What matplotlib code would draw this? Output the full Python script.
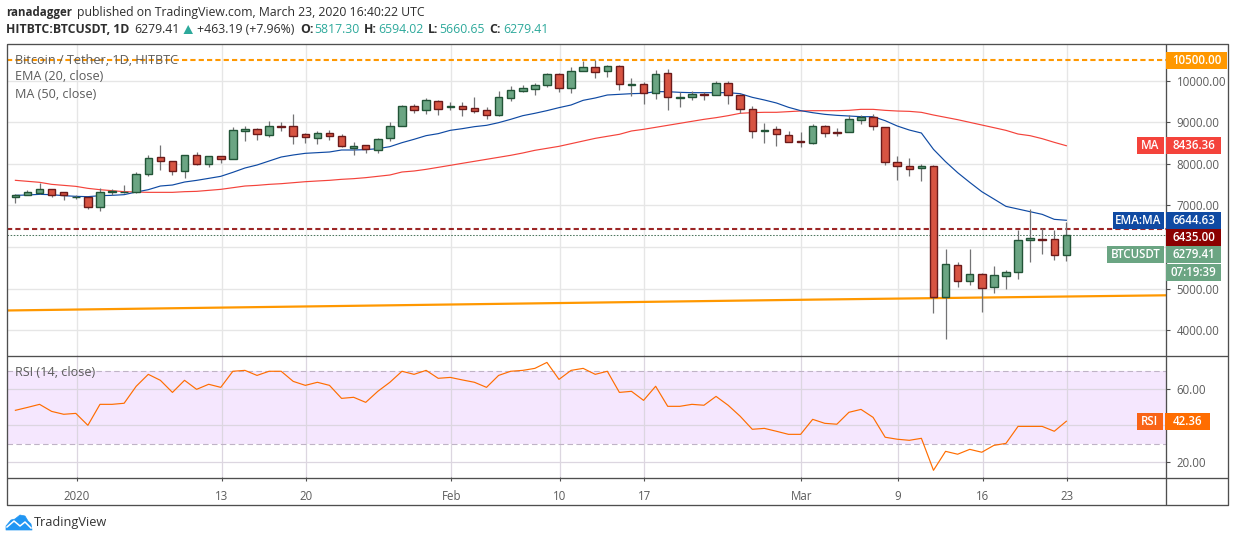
import matplotlib
matplotlib.use("Agg")
import matplotlib.pyplot as plt
from matplotlib.patches import Rectangle, Polygon

plt.rcParams['font.family'] = ['Open Sans', 'DejaVu Sans']

W, H = 1234, 541

# trading days, counted from 1 Jan 2020
first_day = -5
opens = [7196,7244,7308,7388,7316,7196,7196,6955,7332,7324,7332,7749,8157,8061,7821,8206,8005,8182,8110,8798,8831,8702,8903,8903,8710,8630,8734,8678,8390,8446,8326,8614,8903,
         9384,9304,9504,9360,9384,9336,9288,9183,9592,9760,9808,9889,10153,9833,10225,10321,10225,10345,9905,9913,9696,10177,9592,9600,9672,9648,9937,9648,9312,8783,8831,8687,8542,
         8510,8903,8758,8758,9047,9135,8879,8037,7941,7893,7941,4792,5561,5176,5345,5032,5297,5393,6162,6186,6186,5817.30]
highs = [7276,7364,7548,7388,7316,7252,7212,7412,7388,7492,7797,8214,8446,8061,8206,8278,8182,8182,8879,8911,8863,9031,9007,9199,8734,8782,8814,8710,8526,8446,8614,9007,9415,
         9440,9584,9536,9488,9488,9608,9368,9744,9865,9889,9937,10177,10177,10321,10474,10506,10385,10369,10065,9961,10257,10281,9720,9744,9736,9985,9985,9680,9392,8983,8911,8791,8774,
         8959,8935,8863,9175,9167,9191,8879,8189,8133,7997,7973,5954,5633,5954,5369,5537,5441,6411,6907,6450,6411,6594.02]
lows = [7068,7244,7268,7196,7140,7164,6923,6875,7244,7308,7308,7717,7853,7741,7669,7981,7925,8029,8110,8550,8582,8654,8798,8486,8510,8486,8582,8398,8222,8270,8270,8558,8903,
        9224,9200,9183,9296,9151,9216,9079,9151,9520,9736,9656,9857,9736,9712,10225,10073,10089,9776,9640,9440,9560,9296,9368,9536,9536,9648,9440,9216,8622,8510,8430,8518,8414,
        8486,8654,8678,8758,8959,8814,7981,7612,7709,7588,4415,3798,5048,5088,4447,4904,4992,5233,5641,5834,5689,5660.65]
closes = [7244,7316,7388,7244,7252,7204,6955,7332,7348,7332,7749,8133,8061,7821,8206,8005,8182,8110,8806,8839,8726,8903,8887,8678,8654,8734,8678,8422,8422,8350,8590,8903,9383,
          9304,9528,9328,9384,9328,9280,9183,9600,9768,9816,9889,10153,9833,10225,10321,10217,10345,9913,9913,9696,10153,9600,9600,9672,9648,9937,9648,9312,8783,8807,8711,8518,8534,
          8903,8734,8750,9071,9119,8903,8037,7941,7885,7941,4792,5585,5176,5345,5008,5321,5393,6162,6210,6178,5802,6279.41]
ema20 = [7244,7252,7268,7260,7236,7220,7212,7236,7244,7260,7324,7380,7468,7492,7564,7604,7652,7701,7797,7901,7973,8069,8165,8214,8254,8270,8286,8334,8334,8342,8366,8414,8510,
         8591,8679,8727,8807,8847,8895,8927,8991,9071,9159,9216,9280,9352,9416,9528,9584,9656,9672,9688,9696,9736,9736,9720,9712,9712,9712,9712,9688,9600,9536,9464,9360,9280,
         9231,9191,9167,9151,9135,9135,9039,8911,8814,8742,8350,8053,7789,7556,7332,7156,6979,6915,6851,6787,6667,6644.63]
ma50 = [7605,7581,7557,7508,7484,7460,7412,7380,7356,7332,7324,7316,7316,7316,7332,7340,7364,7388,7428,7468,7484,7508,7524,7548,7572,7589,7605,7629,7645,7669,7701,7733,7805,
        7829,7869,7917,7965,8014,8062,8110,8158,8206,8262,8326,8374,8422,8486,8550,8614,8663,8711,8791,8831,8879,8927,8975,9023,9071,9111,9159,9216,9232,9240,9240,9256,9272,
        9279,9279,9279,9287,9311,9311,9287,9271,9263,9239,9175,9119,9063,8999,8935,8871,8806,8718,8678,8606,8518,8436.36]
rsi14 = [48.4,50.0,51.7,47.8,46.2,46.7,40.1,51.7,51.7,52.3,61.7,68.3,65.0,58.3,65.0,60.0,62.8,61.1,70.0,70.5,67.7,70.0,70.0,64.4,62.2,63.9,62.2,55.0,55.6,52.8,58.9,63.9,70.0,
         68.3,70.5,66.1,66.6,65.2,63.9,61.1,67.7,70.0,70.5,71.6,74.9,65.5,70.5,71.6,68.3,70.0,58.3,58.9,53.9,61.7,50.6,50.6,51.7,51.2,56.1,51.2,45.1,37.9,38.4,36.8,35.1,35.1,
         43.4,41.2,40.7,47.3,48.9,44.5,33.5,32.4,31.8,32.9,15.2,25.7,24.1,26.8,25.2,29.0,30.1,39.5,39.5,39.5,36.8,42.36]
days = [first_day + i for i in range(len(closes))]

date_ticks = [0, 12, 19, 31, 40, 47, 60, 68, 75, 82]
date_labels = ['2020', '13', '20', 'Feb', '10', '17', 'Mar', '9', '16', '23']
price_ticks = [4000, 5000, 6000, 7000, 8000, 9000, 10000]
price_tick_labels = ['4000.00', '5000.00', '', '7000.00', '8000.00', '9000.00', '10000.00']
rsi_grid = [20, 40, 60]
rsi_tick_labels = ['20.00', '', '60.00']
rsi_band = (30, 70)
resistance_top = 10500
resistance_mid = 6435
last_close = 6279.41
trend_days = [-5.74, 61, 90.2]
trend_prices = [4476, 4737, 4841]

UP, UP_EDGE = '#6BA583', '#225437'
DOWN, DOWN_EDGE = '#D75442', '#6B1A1A'
WICK = '#737375'
FRAME = '#4f4f4f'
GRID = '#e6e6e6'
TXT = '#5c5c5c'
ORANGE = '#FF9800'
DARKRED = '#8B0000'
BLUE = '#0F4AA3'
RED = '#F4433B'
RSI_C = '#FF6D00'
TEAL = '#2DA99B'
AXIS_FS = 8.3

fig = plt.figure(figsize=(W/100, H/100), dpi=100, facecolor='white')

def rect(x0, y0, x1, y1):
    return [x0/W, 1-y1/H, (x1-x0)/W, (y1-y0)/H]

L, R, T, M, B = 6.5, 1165.5, 43.5, 355, 477
x_scale = 12.08
x_origin = 75.8
xlim = ((L-x_origin)/x_scale, (R-x_origin)/x_scale)
shift = 0.07
tick_pos = [d + shift for d in date_ticks]

# ---- price pane
ax = fig.add_axes(rect(L, T, R, M))
ax.set_xlim(*xlim)
ax.set_ylim(3406, 10894)
ax.set_xticks(tick_pos)
ax.set_xticklabels([])
ax.tick_params(axis='x', length=0)
ax.yaxis.tick_right()
ax.set_yticks(price_ticks)
ax.set_yticklabels(price_tick_labels, color=TXT, fontsize=AXIS_FS)
ax.tick_params(axis='y', length=3, width=0.8, color=FRAME, pad=5)
ax.grid(True, color=GRID, lw=1.0)
ax.set_axisbelow(True)
for s in ax.spines.values():
    s.set_visible(False)

ax.plot(days, ma50, color=RED, lw=0.85, zorder=2)
ax.plot(days, ema20, color=BLUE, lw=0.85, zorder=2)
ax.plot(trend_days, trend_prices, color=ORANGE, lw=1.6, zorder=2)
ax.axhline(resistance_top, color=ORANGE, lw=1.5, dashes=(2.5, 1.5), zorder=2)
ax.axhline(resistance_mid, color=DARKRED, lw=1.5, dashes=(2.5, 1.5), zorder=2.2, alpha=0.85)
ax.axhline(last_close + 10, color=UP_EDGE, lw=0.75, dashes=(1.5, 1.5), zorder=2.1, alpha=0.8)

up = [c >= o for o, c in zip(opens, closes)]
ax.vlines(days, lows, highs, color=WICK, lw=0.9, zorder=3)
ax.bar(days, [abs(c-o) for o, c in zip(opens, closes)], bottom=[min(o, c) for o, c in zip(opens, closes)],
       width=0.62, color=[UP if u else DOWN for u in up],
       edgecolor=[UP_EDGE if u else DOWN_EDGE for u in up], linewidth=1.0, zorder=4)

# ---- RSI pane
ax2 = fig.add_axes(rect(L, M, R, B))
ax2.set_xlim(*xlim)
ax2.set_ylim(11.5, 79)
ax2.axhspan(rsi_band[0], rsi_band[1], color='#F5E7FE', lw=0, zorder=0)
ax2.set_xticks(tick_pos)
ax2.set_xticklabels(date_labels, color=TXT, fontsize=AXIS_FS)
ax2.tick_params(axis='x', length=3, width=0.8, color=FRAME, pad=6)
ax2.yaxis.tick_right()
ax2.set_yticks(rsi_grid)
ax2.set_yticklabels(rsi_tick_labels, color=TXT, fontsize=AXIS_FS)
ax2.tick_params(axis='y', length=3, width=0.8, color=FRAME, pad=5)
ax2.grid(True, color='#dcd6e0', lw=0.9, zorder=1)
ax2.set_axisbelow(True)
for s in ax2.spines.values():
    s.set_visible(False)
for level in rsi_band:
    ax2.axhline(level, color='#bfb3c6', lw=0.8, dashes=(5, 3), zorder=2)
ax2.plot(days, rsi14, color=RSI_C, lw=0.85, zorder=3)

# ---- overlay in pixel coordinates: frame, labels, header, logo
ov = fig.add_axes([0, 0, 1, 1], facecolor='none')
ov.set_xlim(0, W)
ov.set_ylim(H, 0)
ov.axis('off')
for xs, ys in [([6.5, 1227.5, 1227.5, 6.5, 6.5], [43.5, 43.5, 504.5, 504.5, 43.5]),
               ([6.5, 1227.5], [355.5, 355.5]), ([6.5, 1227.5], [477.5, 477.5]),
               ([1165.5, 1165.5], [43.5, 504.5])]:
    ov.plot(xs, ys, color=FRAME, lw=0.95, solid_capstyle='butt')

def tag(x0, x1, y0, y1, color, label, fc='white'):
    ov.add_patch(Rectangle((x0, y0), x1-x0, y1-y0, fc=color, ec='none', zorder=5))
    ov.text((x0+x1)/2, (y0+y1)/2, label, color=fc, fontsize=AXIS_FS, ha='center', va='center',
            zorder=6, fontweight='semibold')

tag(1166, 1227, 52, 69, ORANGE, '10500.00')
tag(1137, 1164, 137, 154, RED, 'MA')
tag(1166, 1221, 137, 154, RED, '8436.36')
tag(1113, 1164, 212, 229, BLUE, 'EMA:MA')
tag(1166, 1221, 212, 229, BLUE, '6644.63')
tag(1166, 1221, 229, 246, DARKRED, '6435.00')
tag(1107, 1164, 246, 263, UP, 'BTCUSDT')
tag(1166, 1221, 246, 263, UP, '6279.41')
tag(1166, 1221, 264, 281, UP, '07:19:39')
tag(1137, 1163, 413, 430, '#F96417', 'RSI')
tag(1165, 1210, 413, 430, RSI_C, '42.36')

for y, s in [(60, 'Bitcoin / Tether, 1D, HITBTC'), (77, 'EMA (20, close)'), (94, 'MA (50, close)'), (372, 'RSI (14, close)')]:
    ov.text(15, y, s, color=TXT, fontsize=9.1, va='center', ha='left', zorder=6)

DARK = '#2e2e2e'
def head(x, y, s, color=DARK, bold=False, fs=8.8):
    ov.text(x, y, s, color=color, fontsize=fs, va='center', ha='left',
            fontweight='bold' if bold else 'normal')

head(6, 12.5, 'ranadagger', bold=True, fs=8.3)
head(77, 12.5, 'published on TradingView.com, March 23, 2020 16:40:22 UTC')
head(6, 29.5, 'HITBTC:BTCUSDT, 1D', bold=True)
head(134, 29.5, '6279.41')
ov.add_patch(Polygon([(183.5, 34), (193, 34), (188.2, 25)], fc=TEAL, ec='none'))
head(197, 29.5, '+463.19 (+7.96%)')
for x, s in [(300, 'O:'), (364, 'H:'), (428, 'L:'), (489, 'C:')]:
    head(x, 29.5, s, bold=True)
for x, s in [(314, '5817.30'), (378, '6594.02'), (439, '5660.65'), (503, '6279.41')]:
    head(x, 29.5, s, color=TEAL)

# TradingView logo
ov.add_patch(Polygon([(6, 530), (6, 526), (11, 520), (15, 519), (20, 515), (25, 516), (28, 521),
                      (31, 524), (32, 530)], fc='#2196F3', ec='#2196F3', lw=0.5, joinstyle='round'))
ov.plot([7, 14, 20, 25, 31], [527, 521, 526, 522, 528], color='white', lw=1.1)
ov.text(34, 522.5, 'TradingView', color='#333333', fontsize=9.2, va='center', ha='left')

fig.savefig('out.png', dpi=100, facecolor='white')
